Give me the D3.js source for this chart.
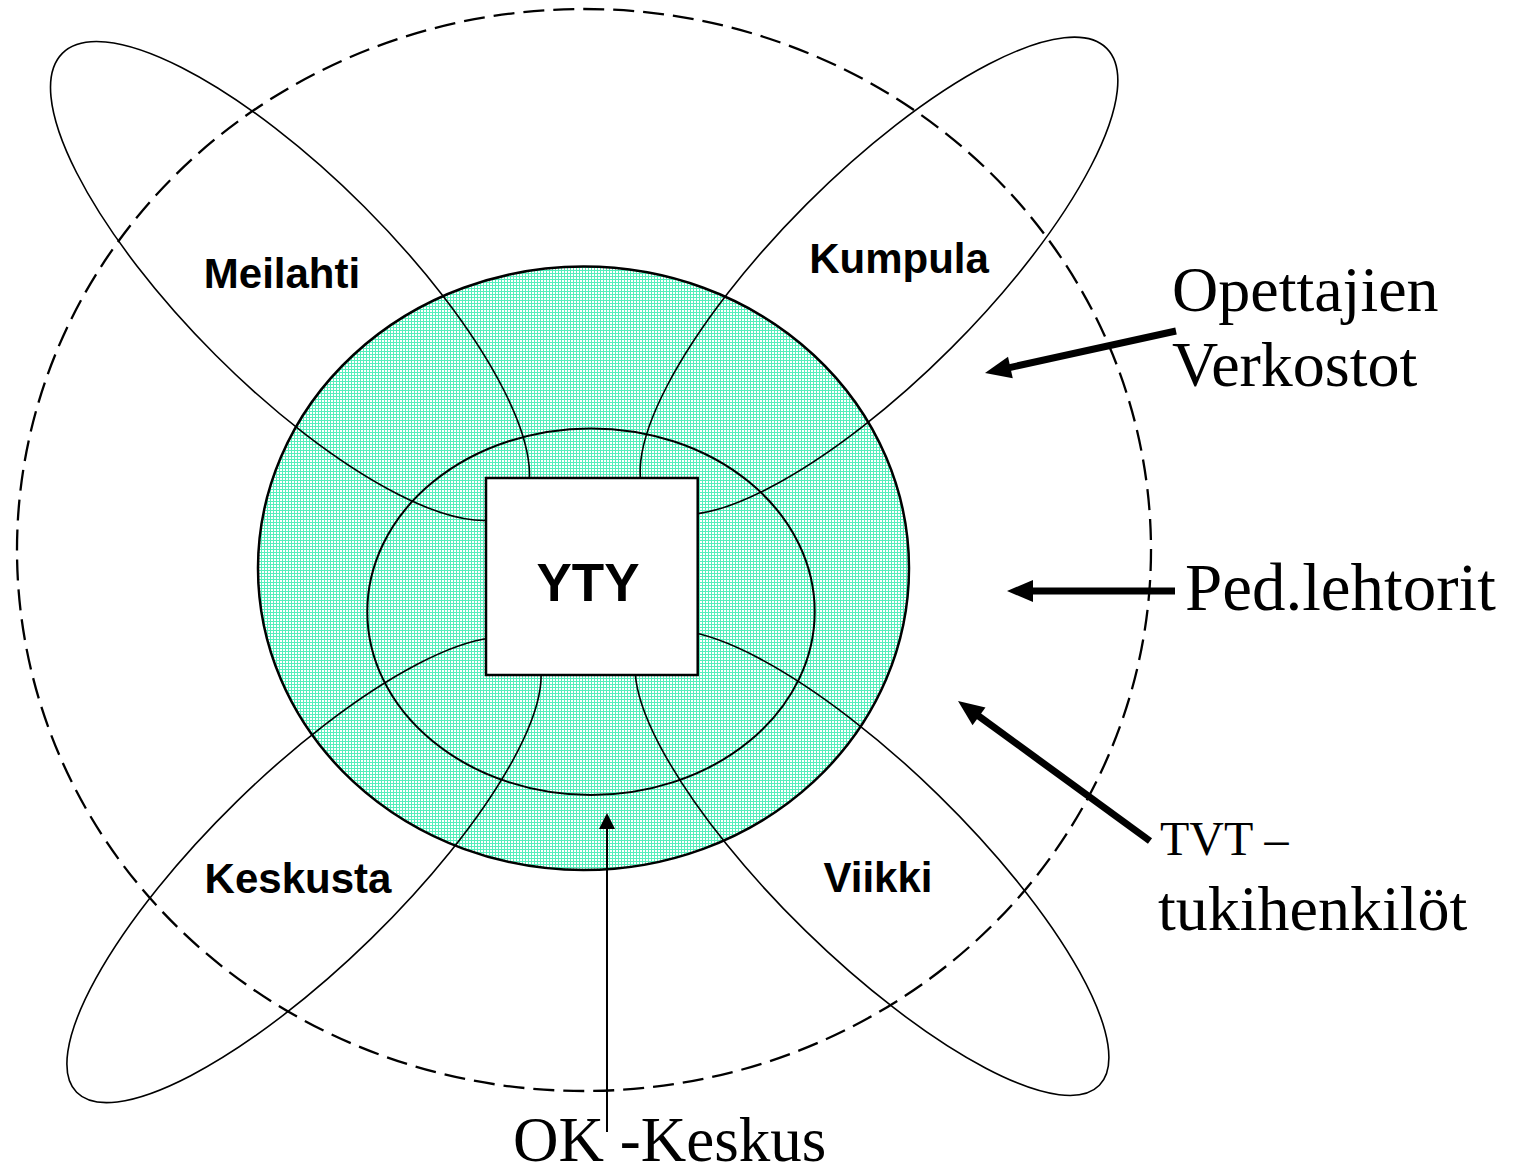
<!DOCTYPE html>
<html>
<head>
<meta charset="utf-8">
<script src="https://cdn.jsdelivr.net/npm/d3@7"></script>
<style>
  html, body { margin: 0; padding: 0; background: #fff; }
  svg { display: block; }
</style>
</head>
<body>
<svg id="chart" width="1517" height="1171"></svg>
<script>
// campus loops (rotated ellipses) - centre, semi axes, rotation
var campuses = ["Meilahti", "Kumpula", "Keskusta", "Viikki"];
var campusCentre = [[290, 281], [879, 276], [304, 870], [872, 863]];
var campusAxes = [[322, 105], [322, 102], [318, 96], [318, 95]];
var campusAngle = [45, -45, -44.35, 44.35];
var campusLabelAt = [[282, 288], [899, 273], [298, 893], [878, 892]];

// rings: [cx, cy, rx, ry]
var ringNames = ["verkostot", "lehtorit", "okKeskus"];
var ringShapes = [[584, 550, 567, 541], [583.5, 568.3, 325.5, 301.7], [591, 611.7, 223.7, 183.3]];

// centre box
var boxLabel = "YTY";
var boxCorners = [[486, 478], [697.7, 675]];

// side labels and their arrows [from, to]
var sideLabels = [["Opettajien", "Verkostot"], ["Ped.lehtorit"], ["TVT \u2013", "tukihenkilöt"]];
var sideLabelAt = [[1172, 311], [1185, 610], [1160, 855]];
var sideArrows = [[[1176, 331], [985, 373]], [[1175, 591], [1007, 591]], [[1150, 841], [958, 701]]];
var okLabel = "OK -Keskus";
var okLabelAt = [513, 1161];
var okArrow = [[607, 1132], [607, 813]];

var svg = d3.select("#chart"),
    width = +svg.attr("width"),
    height = +svg.attr("height");

var x = d3.scaleLinear().domain([0, 1517]).range([0, width]);
var y = d3.scaleLinear().domain([0, 1171]).range([0, height]);

var sans = "'Liberation Sans', Arial, Helvetica, sans-serif";
var serif = "'Liberation Serif', 'Times New Roman', Times, serif";

// mint hatch like the original fill
var pat = svg.append("defs").append("pattern")
    .attr("id", "mint")
    .attr("patternUnits", "userSpaceOnUse")
    .attr("width", 3).attr("height", 3);
pat.append("rect").attr("width", 3).attr("height", 3).attr("fill", "#ffffff");
pat.append("rect").attr("width", 3).attr("height", 1).attr("fill", "#55eebb");
pat.append("rect").attr("width", 1).attr("height", 3).attr("fill", "#55eebb");

// outer dashed ring
svg.append("ellipse")
    .attr("cx", x(ringShapes[0][0])).attr("cy", y(ringShapes[0][1]))
    .attr("rx", x(ringShapes[0][2])).attr("ry", y(ringShapes[0][3]))
    .attr("fill", "none")
    .attr("stroke", "#000")
    .attr("stroke-width", 2.3)
    .attr("stroke-dasharray", "21 9");

// green ring
svg.append("ellipse")
    .attr("cx", x(ringShapes[1][0])).attr("cy", y(ringShapes[1][1]))
    .attr("rx", x(ringShapes[1][2])).attr("ry", y(ringShapes[1][3]))
    .attr("fill", "url(#mint)")
    .attr("stroke", "#000")
    .attr("stroke-width", 2.5);

// inner ring
svg.append("ellipse")
    .attr("cx", x(ringShapes[2][0])).attr("cy", y(ringShapes[2][1]))
    .attr("rx", x(ringShapes[2][2])).attr("ry", y(ringShapes[2][3]))
    .attr("fill", "none")
    .attr("stroke", "#000")
    .attr("stroke-width", 2);

// campus loops
svg.selectAll(".petal")
    .data(campuses)
    .enter()
    .append("ellipse")
    .attr("class", "petal")
    .attr("cx", function (d, i) {return x(campusCentre[i][0]);})
    .attr("cy", function (d, i) {return y(campusCentre[i][1]);})
    .attr("rx", function (d, i) {return x(campusAxes[i][0]);})
    .attr("ry", function (d, i) {return y(campusAxes[i][1]);})
    .attr("transform", function (d, i) {
        return "rotate(" + campusAngle[i] + "," + x(campusCentre[i][0]) + "," + y(campusCentre[i][1]) + ")";
    })
    .attr("fill", "none")
    .attr("stroke", "#000")
    .attr("stroke-width", 1.6);

// YTY box
svg.append("rect")
    .attr("x", x(boxCorners[0][0])).attr("y", y(boxCorners[0][1]))
    .attr("width", x(boxCorners[1][0]) - x(boxCorners[0][0]))
    .attr("height", y(boxCorners[1][1]) - y(boxCorners[0][1]))
    .attr("fill", "#fff")
    .attr("stroke", "#000")
    .attr("stroke-width", 2.5);

svg.append("text")
    .attr("x", x(588)).attr("y", y(601))
    .attr("text-anchor", "middle")
    .style("font-family", sans)
    .style("font-weight", "bold")
    .style("font-size", "53px")
    .text(boxLabel);

svg.selectAll(".campus")
    .data(campuses)
    .enter()
    .append("text")
    .attr("class", "campus")
    .attr("x", function (d, i) {return x(campusLabelAt[i][0]);})
    .attr("y", function (d, i) {return y(campusLabelAt[i][1]);})
    .attr("text-anchor", "middle")
    .style("font-family", sans)
    .style("font-weight", "bold")
    .style("font-size", "42px")
    .text(function (d) {return d;});

// side labels
var sideSizes = [[64, 64], [67], [48, 64]];
sideLabels.forEach(function (lines, i) {
    lines.forEach(function (line, j) {
        svg.append("text")
            .attr("x", x(sideLabelAt[i][0]) - (i == 2 && j == 1 ? 2 : 0))
            .attr("y", y(sideLabelAt[i][1]) + j * 75)
            .style("font-family", serif)
            .style("font-size", sideSizes[i][j] + "px")
            .text(line);
    });
});

svg.append("text")
    .attr("x", x(okLabelAt[0])).attr("y", y(okLabelAt[1]))
    .style("font-family", serif)
    .style("font-size", "63px")
    .text(okLabel);

function arrow(from, to, w, headLen, headW) {
    var x1 = x(from[0]), y1 = y(from[1]), x2 = x(to[0]), y2 = y(to[1]);
    var dx = x2 - x1, dy = y2 - y1, len = Math.sqrt(dx * dx + dy * dy);
    var ux = dx / len, uy = dy / len;
    var bx = x2 - ux * headLen, by = y2 - uy * headLen;
    svg.append("line")
        .attr("x1", x1).attr("y1", y1)
        .attr("x2", bx + ux * 2).attr("y2", by + uy * 2)
        .attr("stroke", "#000")
        .attr("stroke-width", w);
    svg.append("path")
        .attr("d", "M" + x2 + "," + y2 +
            "L" + (bx - uy * headW / 2) + "," + (by + ux * headW / 2) +
            "L" + (bx + uy * headW / 2) + "," + (by - ux * headW / 2) + "Z")
        .attr("fill", "#000");
}

sideArrows.forEach(function (a) { arrow(a[0], a[1], 7, 26, 22); });
arrow(okArrow[0], okArrow[1], 2, 16, 16);
</script>
</body>
</html>
